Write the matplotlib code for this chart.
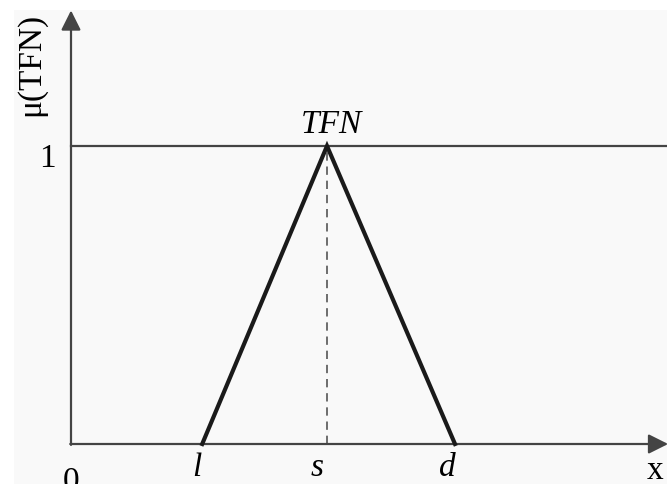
import numpy as np
import matplotlib
matplotlib.use('Agg')
import matplotlib.pyplot as plt
from matplotlib.patches import Rectangle

# triangular fuzzy number: lower, peak, upper
tfn_x = [2.05, 4.0, 6.0]
tfn_mu = [0.0, 1.0, 0.0]
tick_names = ['l', 's', 'd']

plt.rcParams['font.family'] = ['Liberation Serif', 'DejaVu Serif']

fig = plt.figure(figsize=(6.67, 4.85), dpi=100)
fig.patch.set_facecolor('white')

ax = fig.add_axes([0, 0, 1, 1])
ax.patch.set_alpha(0)
ax.set_xlim(-71 / 64, 596 / 64)
ax.set_ylim(-40 / 298, 445 / 298)
ax.axis('off')

# light grey panel behind the drawing
ax.add_patch(Rectangle((14 / 667, 0), 1, 1 - 11 / 485, transform=fig.transFigure,
                       facecolor='#f9f9f9', edgecolor='none', zorder=0))

axcol = '#444444'
arrow = dict(arrowstyle='-|>', color=axcol, lw=1.6, mutation_scale=30,
             shrinkA=0, shrinkB=0)
# axes with arrows
ax.annotate('', xy=(0, 1.455), xytext=(0, -0.003), arrowprops=arrow,
            annotation_clip=False)
ax.annotate('', xy=(9.33, 0), xytext=(-0.012, 0), arrowprops=arrow,
            annotation_clip=False)

# level mu = 1
ax.plot([0, 9.4], [1, 1], color=axcol, lw=1.6)

# triangle
ax.plot(tfn_x, tfn_mu, color='#1a1a1a', lw=3, solid_joinstyle='miter', zorder=3)
ax.plot([tfn_x[1], tfn_x[1]], [0, 1], color='#555555', lw=1.2, ls=(0, (5, 3.5)), zorder=2)

fs = 24
for xv, name, dx in zip(tfn_x, tick_names, [-0.08, -0.16, -0.12]):
    ax.text(xv + dx, -0.075, name, style='italic', fontsize=fs, ha='center', va='center')
ax.text(0, -0.125, '0', fontsize=fs, ha='center', va='center')
ax.text(9.12, -0.085, 'x', fontsize=fs, ha='center', va='center')
ax.text(-0.37, 0.962, '1', fontsize=fs, ha='center', va='center')
ax.text(-0.62, 1.277, 'μ(TFN)', fontsize=fs, rotation=90, ha='center', va='center')
ax.text(4.07, 1.075, 'TFN', style='italic', fontsize=fs, ha='center', va='center')

fig.savefig('out.png', dpi=100)
